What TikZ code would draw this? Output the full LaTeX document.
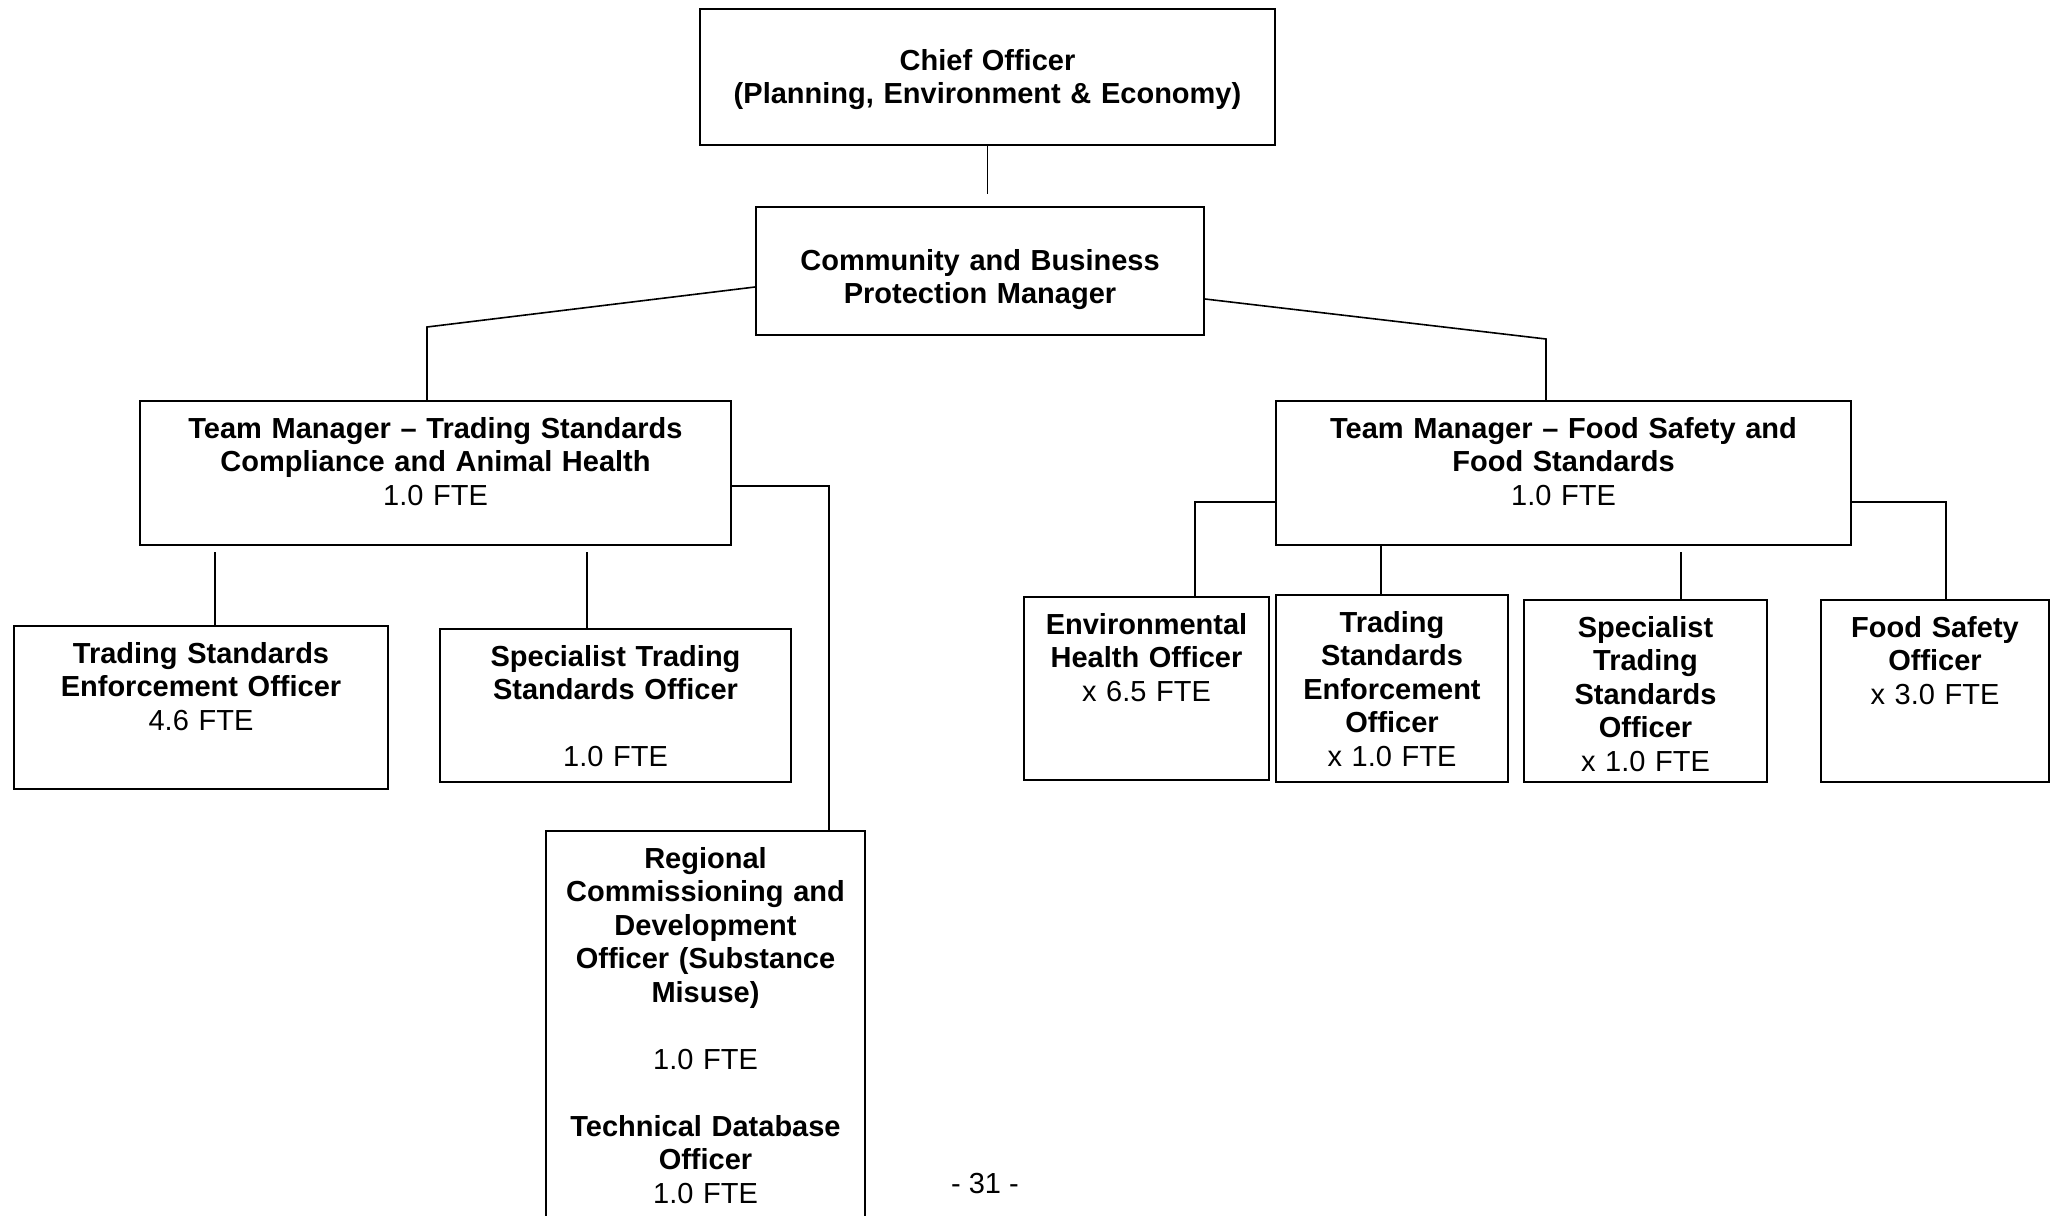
\documentclass[tikz,border=0pt]{standalone}
\usepackage{fontspec}
\setmainfont{Liberation Sans}
\usetikzlibrary{positioning}

\begin{document}
\begin{tikzpicture}[x=0.5pt,y=-0.5pt,
  post/.style args={#1/#2/#3}{draw,line width=1pt,anchor=north west,align=center,
    inner xsep=0pt,inner ysep=0pt,text width=#1,text height=#2,text depth=#3,
    font=\fontsize{14.5}{16.75}\selectfont},
  link/.style={line width=0.8pt}]
  \useasboundingbox (0,0) rectangle (2059,1215);
  % top of the chart
  \node[post=287.5pt/30.5pt/37.5pt] (chief) at (699,8) {\textbf{Chief Officer}\\ \textbf{(Planning, Environment \& Economy)}};
  \node[post=224pt/31.5pt/32.5pt] (cbpm) at (755,206) {\textbf{Community and Business}\\ \textbf{Protection Manager}};
  % team managers
  \node[post=295.5pt/18.5pt/53.5pt] (tmts) at (139,400) {\textbf{Team Manager -- Trading Standards}\\ \textbf{Compliance and Animal Health}\\ 1.0 FTE};
  \node[post=287.5pt/18.5pt/53.5pt] (tmfs) at (1275,400) {\textbf{Team Manager -- Food Safety and}\\ \textbf{Food Standards}\\ 1.0 FTE};
  % trading standards team
  \node[post=187pt/18.5pt/63pt] (tseo) at (13,625) {\textbf{Trading Standards}\\ \textbf{Enforcement Officer}\\ 4.6 FTE};
  \node[post=175.5pt/18.5pt/58pt] (stso) at (439,628) {\textbf{Specialist Trading}\\ \textbf{Standards Officer}\\[16.75pt] 1.0 FTE};
  \node[post=159.5pt/18.5pt/186.5pt] (rcdo) at (545,830) {\textbf{Regional}\\ \textbf{Commissioning and}\\ \textbf{Development}\\ \textbf{Officer (Substance}\\ \textbf{Misuse)}\\[16.75pt] 1.0 FTE\\[16.75pt] \textbf{Technical Database}\\ \textbf{Officer}\\ 1.0 FTE};
  % food safety team
  \node[post=122.5pt/18.5pt/73pt] (eho) at (1023,596) {\textbf{Environmental}\\ \textbf{Health Officer}\\ x 6.5 FTE};
  \node[post=116pt/18.5pt/75pt] (tseoB) at (1275,594) {\textbf{Trading}\\ \textbf{Standards}\\ \textbf{Enforcement}\\ \textbf{Officer}\\ x 1.0 FTE};
  \node[post=121.5pt/18.5pt/72.5pt] (stsoB) at (1523,599) {\textbf{Specialist}\\ \textbf{Trading}\\ \textbf{Standards}\\ \textbf{Officer}\\ x 1.0 FTE};
  \node[post=114pt/18.5pt/72.5pt] (fso) at (1820,599) {\textbf{Food Safety}\\ \textbf{Officer}\\ x 3.0 FTE};
  \node[font=\fontsize{14.5}{16.75}\selectfont] (pgno) at (985,1183) {- 31 -};
  % connectors
  \draw[link,shorten >=6pt] (chief.south) -- (chief.south |- cbpm.north);
  \coordinate (lk) at (427,327);
  \draw[link] ([yshift=-8pt]cbpm.west) -- (lk) -- (lk |- tmts.north);
  \coordinate (rk) at (1546,339);
  \draw[link] ([yshift=-14pt]cbpm.east) -- (rk) -- (rk |- tmfs.north);
  \coordinate (ta) at (215,552);
  \draw[link] (ta) -- (ta |- tseo.north);
  \coordinate (tb) at (587,552);
  \draw[link] (tb) -- (tb |- stso.north);
  \coordinate (tc) at (829,486);
  \draw[link] (tc -| tmts.east) -- (tc) -- (tc |- rcdo.north);
  \coordinate (fa) at (1195,502);
  \draw[link] (fa -| tmfs.west) -- (fa) -- (fa |- eho.north);
  \coordinate (fb) at (1381,544);
  \draw[link] (fb |- tmfs.south) -- (fb |- tseoB.north);
  \coordinate (fc) at (1681,552);
  \draw[link] (fc) -- (fc |- stsoB.north);
  \coordinate (fd) at (1946,502);
  \draw[link] (fd -| tmfs.east) -- (fd) -- (fd |- fso.north);
\end{tikzpicture}
\end{document}
